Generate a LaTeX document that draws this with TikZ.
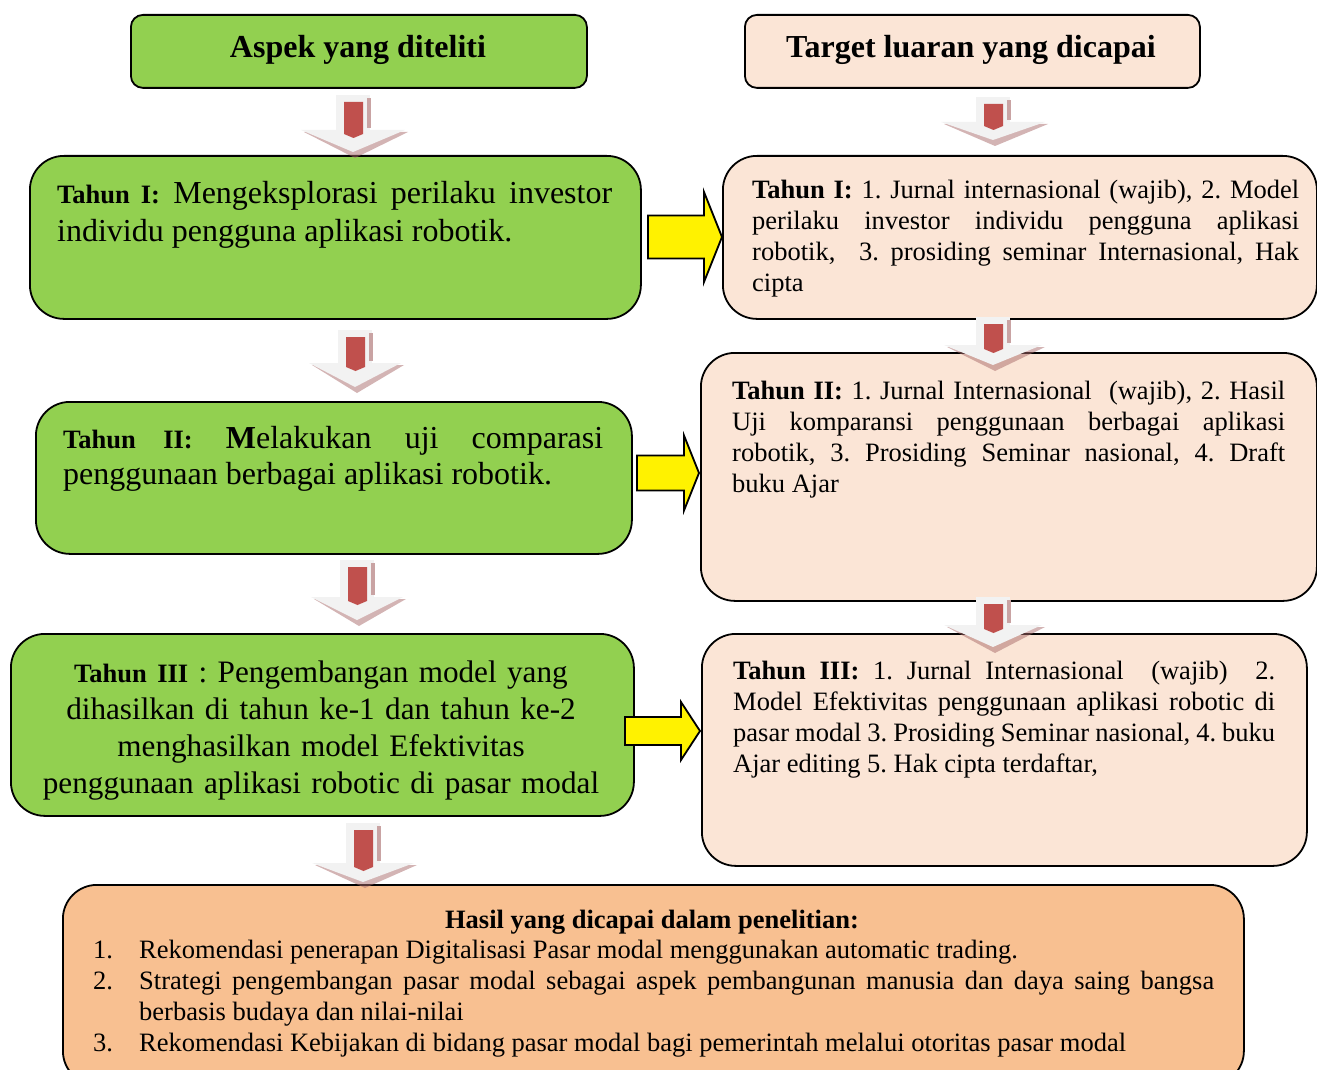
\documentclass[tikz,border=0pt]{standalone}
\usepackage{fontspec}
\setmainfont{Liberation Serif}
\usetikzlibrary{calc}
\frenchspacing

\definecolor{boxgreen}{HTML}{92D050}
\definecolor{boxpeach}{HTML}{FBE5D6}
\definecolor{boxtan}{HTML}{F8C091}
\definecolor{arrred}{HTML}{C0504D}
\definecolor{arrface}{HTML}{F2F2F2}
\definecolor{arrside}{HTML}{C9A3A3}
\definecolor{arrshadow}{HTML}{A86A6A}

\newcommand\txtL{\fontsize{32}{37}\selectfont}
\newcommand\txtLL{\fontsize{32}{38}\selectfont}
\newcommand\txtLM{\fontsize{32}{36}\selectfont}
\newcommand\txtLC{\fontsize{31.2}{37}\selectfont}
\newcommand\txtS{\fontsize{26.5}{31}\selectfont}

\tikzset{
  box/.style={draw=black, line width=1.8pt, anchor=north west, inner sep=0pt},
  headbox/.style={box, rounded corners=12pt},
  stagebox/.style={box, rounded corners=34pt},
  txt/.style={inner sep=0pt, anchor=base west},
  justtxt/.style={txt, align=justify},
  yarrowstyle/.style={draw=black, line width=1.8pt, fill=yellow, line join=miter},
  % yellow block arrow: length, shaft half height, head half height, head length
  pics/yarrow/.style n args={4}{code={
    \draw[yarrowstyle] (0,-#2) -- (#1-#4,-#2) -- (#1-#4,-#3) -- (#1,0)
      -- (#1-#4,#3) -- (#1-#4,#2) -- (0,#2) -- cycle;
  }},
  % shaded downward block arrow: shaft height, head height, head half width
  pics/darrow/.style n args={3}{code={
    \fill[arrshadow, opacity=.5] (-#3+3,#1+2) -- (#3+3,#1+2) -- (2,#1+#2+6) -- cycle;
    \fill[arrface] (-17,0) rectangle (17,#1+1);
    \fill[arrside] (14,3) rectangle (18,#1-2);
    \fill[arrface] (-#3,#1) -- (#3,#1) -- (0,#1+#2) -- cycle;
    \fill[arrred] (-9,7) -- (10,7) -- (10,#1+4) -- (0.5,#1+8) -- (-9,#1+4) -- cycle;
  }}
}

\begin{document}
\begin{tikzpicture}[x=1pt, y=-1pt]
\useasboundingbox (0,0) rectangle (1317,1070);

% column headers
\node[headbox, fill=boxgreen, minimum width=456pt, minimum height=73pt] (hA) at (130,14) {};
\node[headbox, fill=boxpeach, minimum width=455pt, minimum height=73pt] (hT) at (744,14) {};
\node[inner sep=0pt, anchor=base, font=\txtL\bfseries] (hAt) at (358,58) {Aspek yang diteliti};
\node[inner sep=0pt, anchor=base, font=\txtL\bfseries] (hTt) at (971,58) {Target luaran yang dicapai};

% research stages (left)
\node[stagebox, fill=boxgreen, minimum width=611pt, minimum height=163pt] (a1) at (29,155) {};
\node[stagebox, fill=boxgreen, minimum width=596pt, minimum height=152pt] (a2) at (35,401) {};
\node[stagebox, fill=boxgreen, minimum width=623pt, minimum height=182pt] (a3) at (10,633) {};

% targets (right)
\node[stagebox, fill=boxpeach, minimum width=594pt, minimum height=163pt] (t1) at (722,155) {};
\node[stagebox, fill=boxpeach, minimum width=616pt, minimum height=248pt] (t2) at (700,352) {};
\node[stagebox, fill=boxpeach, minimum width=605pt, minimum height=232pt] (t3) at (701,633) {};

% results
\node[stagebox, fill=boxtan, minimum width=1181pt, minimum height=200pt] (res) at (62,884) {};

% stage texts
\node[justtxt, text width=555pt, font=\txtLL] (a1t) at (57,203)
  {{\txtS\bfseries Tahun I:} Mengeksplorasi perilaku investor\linebreak
   individu pengguna aplikasi robotik.};
\node[justtxt, text width=540pt, font=\txtLM] (a2t) at (63,448)
  {{\txtS\bfseries Tahun II:} {\bfseries M}elakukan uji comparasi\linebreak
   penggunaan berbagai aplikasi robotik.};
\node[inner sep=0pt, anchor=base, align=center, text width=610pt, font=\txtLC] (a3t) at (321,682)
  {{\txtS\bfseries Tahun III} : Pengembangan model yang\\
   dihasilkan di tahun ke-1 dan tahun ke-2\\
   menghasilkan model Efektivitas\\
   penggunaan aplikasi robotic di pasar modal};

% target texts
\node[justtxt, text width=547pt, font=\txtS] (t1t) at (752,198)
  {\textbf{Tahun I:} 1. Jurnal internasional (wajib), 2. Model\linebreak
   perilaku investor individu pengguna aplikasi\linebreak
   robotik,\ \ 3. prosiding seminar Internasional, Hak\linebreak
   cipta};
\node[justtxt, text width=553pt, font=\txtS] (t2t) at (732,399)
  {\textbf{Tahun II:} 1. Jurnal Internasional\ \ (wajib), 2. Hasil\linebreak
   Uji komparansi penggunaan berbagai aplikasi\linebreak
   robotik, 3. Prosiding Seminar nasional, 4. Draft\linebreak
   buku Ajar};
\node[justtxt, text width=542pt, font=\txtS] (t3t) at (733,679)
  {\textbf{Tahun III:} 1. Jurnal Internasional\ \ (wajib)\ \ 2.\linebreak
   Model Efektivitas penggunaan aplikasi robotic di\linebreak
   pasar modal 3. Prosiding Seminar nasional, 4. buku\linebreak
   Ajar editing 5. Hak cipta terdaftar,};

% results text
\node[inner sep=0pt, anchor=base, font=\txtS\bfseries] (rt) at (652,928) {Hasil yang dicapai dalam penelitian:};
\node[txt, font=\txtS] (n1) at (93,958) {1.};
\node[txt, font=\txtS] (n2) at (93,989) {2.};
\node[txt, font=\txtS] (n3) at (93,1051) {3.};
\node[txt, font=\txtS] (r1) at (139,958) {Rekomendasi penerapan Digitalisasi Pasar modal menggunakan automatic trading.};
\node[justtxt, text width=1075pt, font=\txtS] (r2) at (139,989)
  {Strategi pengembangan pasar modal sebagai aspek pembangunan manusia dan daya saing bangsa\linebreak
   berbasis budaya dan nilai-nilai};
\node[txt, font=\txtS] (r3) at (139,1051) {Rekomendasi Kebijakan di bidang pasar modal bagi pemerintah melalui otoritas pasar modal};

% yellow arrows from stages to targets
\coordinate (y1) at (648,237);
\coordinate (y2) at (637,473);
\coordinate (y3) at (625,731);
\pic at (y1) {yarrow={74}{21.5}{45}{18}};
\pic at (y2) {yarrow={62}{17.5}{37.5}{15}};
\pic at (y3) {yarrow={75}{14}{29}{19}};

% downward arrows between levels
\coordinate (d1) at (353,95);
\coordinate (d2) at (355,330);
\coordinate (d3) at (357,560);
\coordinate (d4) at (363,823);
\coordinate (e1) at (993,97);
\coordinate (e2) at (993,317);
\coordinate (e3) at (993,597);
\pic at (d1) {darrow={35}{22}{52}};
\pic at (d2) {darrow={33}{24}{46}};
\pic at (d3) {darrow={37}{23}{46}};
\pic at (d4) {darrow={40}{19}{51}};
\pic at (e1) {darrow={25}{18}{52}};
\pic at (e2) {darrow={28}{20}{49}};
\pic at (e3) {darrow={28}{22}{49}};
\end{tikzpicture}
\end{document}
